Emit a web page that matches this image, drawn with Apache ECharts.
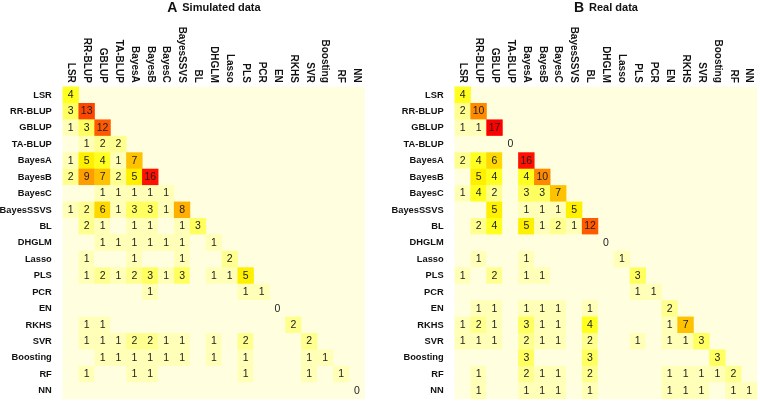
<!DOCTYPE html>
<html>
<head>
<meta charset="utf-8">
<script src="https://cdn.jsdelivr.net/npm/echarts@6/dist/echarts.min.js"></script>
<style>html,body{margin:0;padding:0;background:#fff}#c{width:760px;height:401px}</style>
</head>
<body>
<div id="c"></div>
<script>
// Method names (rows and columns)
const methods = ['LSR','RR-BLUP','GBLUP','TA-BLUP','BayesA','BayesB','BayesC','BayesSSVS','BL','DHGLM','Lasso','PLS','PCR','EN','RKHS','SVR','Boosting','RF','NN'];

// Panel A: simulated data, lower triangle (row i has i+1 values)
const simulated = [
  [4],
  [3,13],
  [1,3,12],
  [0,1,2,2],
  [1,5,4,1,7],
  [2,9,7,2,5,16],
  [0,0,1,1,1,1,1],
  [1,2,6,1,3,3,1,8],
  [0,2,1,0,1,1,0,1,3],
  [0,0,1,1,1,1,1,1,0,1],
  [0,1,0,0,1,0,0,1,0,0,2],
  [0,1,2,1,2,3,1,3,0,1,1,5],
  [0,0,0,0,0,1,0,0,0,0,0,1,1],
  [0,0,0,0,0,0,0,0,0,0,0,0,0,0],
  [0,1,1,0,0,0,0,0,0,0,0,0,0,0,2],
  [0,1,1,1,2,2,1,1,0,1,0,2,0,0,0,2],
  [0,0,1,1,1,1,1,1,0,1,0,1,0,0,0,1,1],
  [0,1,0,0,1,1,0,0,0,0,0,1,0,0,0,1,0,1],
  [0,0,0,0,0,0,0,0,0,0,0,0,0,0,0,0,0,0,0]
];

// Panel B: real data, lower triangle
const real = [
  [4],
  [2,10],
  [1,1,17],
  [0,0,0,0],
  [2,4,6,0,16],
  [0,5,4,0,4,10],
  [1,4,2,0,3,3,7],
  [0,0,5,0,1,1,1,5],
  [0,2,4,0,5,1,2,1,12],
  [0,0,0,0,0,0,0,0,0,0],
  [0,1,0,0,1,0,0,0,0,0,1],
  [1,0,2,0,1,1,0,0,0,0,0,3],
  [0,0,0,0,0,0,0,0,0,0,0,1,1],
  [0,1,1,0,1,1,1,0,1,0,0,0,0,2],
  [1,2,1,0,3,1,1,0,4,0,0,0,0,1,7],
  [1,1,1,0,2,1,1,0,2,0,0,1,0,1,1,3],
  [0,0,0,0,3,0,0,0,3,0,0,0,0,0,0,0,3],
  [0,1,0,0,2,1,1,0,2,0,0,0,0,1,1,1,1,2],
  [0,1,0,0,1,1,1,0,1,0,0,0,0,1,1,1,0,1,1]
];

const panelTitles = [['A','Simulated data'],['B','Real data']];

function toCells(mat){
  const out = [];
  mat.forEach((row,i)=>row.forEach((v,j)=>out.push([j,i,v])));
  return out;
}

const heatColors = ['#FFFFE0','#FFFFB8','#FFFF90','#FFFF60','#FFFF20','#FFF000','#FFD800','#FFC200','#FFB000','#FF9C00','#FF8A00','#FF7000','#FF5A00','#FF4600','#FF3200','#FF2000','#FF1000','#FF0000'];

const grids = [
  {left: 62.8, top: 86.8, width: 302.1, height: 312.2},
  {left: 454.7, top: 86.8, width: 302.5, height: 312.2}
];

const chart = echarts.init(document.getElementById('c'), null, {renderer:'canvas'});
const font = 'Liberation Sans, Arial, sans-serif';

const option = {
  animation: false,
  title: grids.map((g,k)=>({
    text: '{a|' + panelTitles[k][0] + '} {b|' + panelTitles[k][1] + '}',
    left: g.left + g.width/2,
    textAlign: 'center',
    top: -1,
    padding: 0,
    textStyle: {
      rich: {
        a: {fontFamily: font, fontWeight: 'bold', fontSize: 14, color: '#111'},
        b: {fontFamily: font, fontWeight: 'bold', fontSize: 11, color: '#111'}
      }
    }
  })),
  grid: grids.map(g=>Object.assign({show:true, backgroundColor:'#FFFFE0', borderWidth:0, containLabel:false, outerBoundsMode:'none'}, g)),
  xAxis: grids.map((g,k)=>({
    type:'category', gridIndex:k, data: methods, position:'top',
    axisLine:{show:false}, axisTick:{show:false}, splitLine:{show:false},
    axisLabel:{rotate:90, interval:0, margin:4, fontFamily:font, fontWeight:'bold', fontSize:10, color:'#111', hideOverlap:false}
  })),
  yAxis: grids.map((g,k)=>({
    type:'category', gridIndex:k, data: methods, inverse:true,
    axisLine:{show:false}, axisTick:{show:false}, splitLine:{show:false},
    axisLabel:{interval:0, margin:11, fontFamily:font, fontWeight:'bold', fontSize:9.3, color:'#111', hideOverlap:false}
  })),
  visualMap: {
    type:'continuous', show:false, min:0, max:17, dimension:2, seriesIndex:[0,1],
    inRange:{color: heatColors}
  },
  series: [simulated, real].map((mat,k)=>({
    type:'heatmap', xAxisIndex:k, yAxisIndex:k,
    data: toCells(mat),
    itemStyle:{borderWidth:0},
    emphasis:{disabled:true},
    label:{
      show:true, fontFamily:font, fontSize:10.5, color:'#222',
      formatter: p => (p.value[2] > 0 || p.value[0] === p.value[1]) ? String(p.value[2]) : ''
    }
  }))
};
chart.setOption(option);
</script>
</body>
</html>
